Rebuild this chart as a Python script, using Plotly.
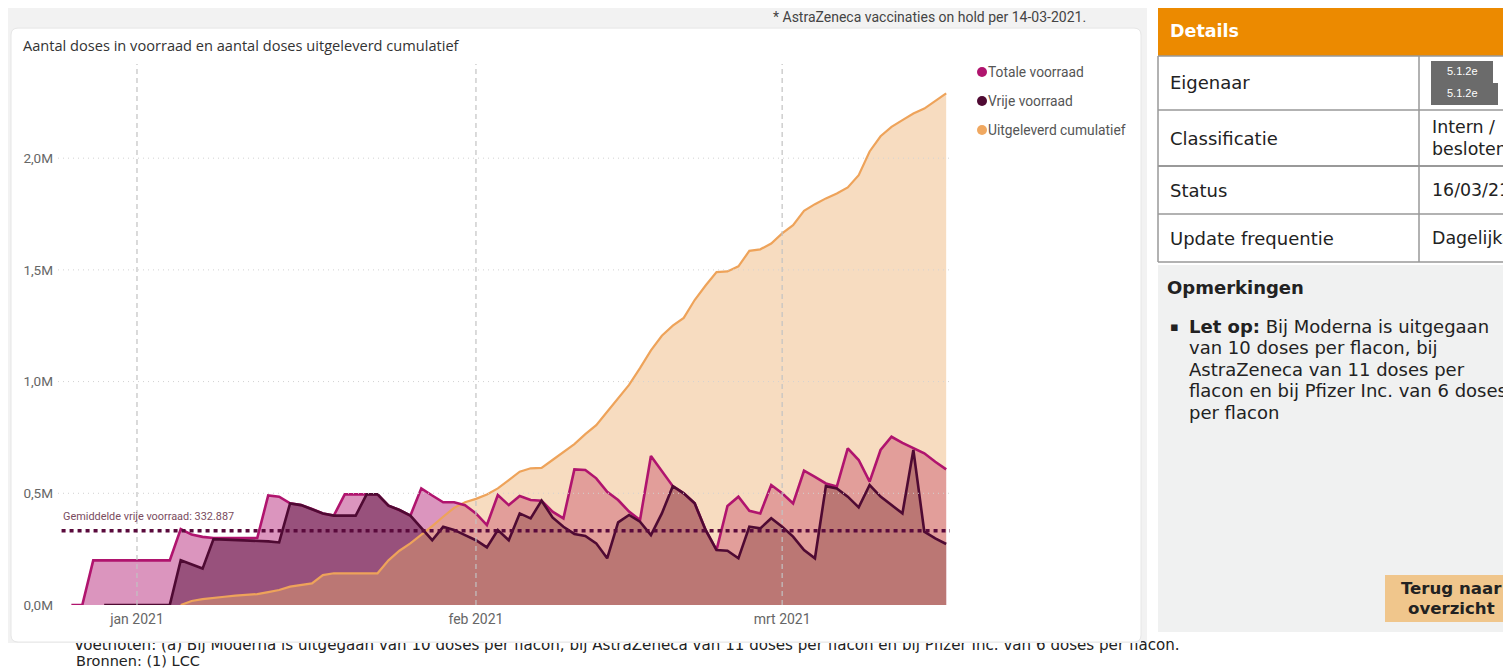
import pandas as pd
import plotly.graph_objects as go

OFF = 8            # page body margin of the browser
S = 672 / 680      # vertical scale of the photographed page
W, H = 1503, 672


def fx(x):
    return x - OFF


def fy(y):
    return y / S - OFF


def px(x):
    return fx(x) / W


def py(y):
    return 1 - fy(y) / H


# Data (doses), daily from 26-12-2020 to 16-03-2021
dates = pd.date_range('2020-12-26', '2021-03-16', freq='D')

totale_k = ([0, 0, 200, 200, 200, 200] +
            [200, 200, 200, 200, 340, 315, 305, 300, 300, 300, 300, 300, 490, 485, 455, 447,
             430, 410, 400, 495, 495, 495, 495, 445, 425, 400, 522, 490, 460, 460, 447] +
            [410, 358, 492, 447, 488, 470, 467, 418, 388, 607, 604, 567, 507, 470, 418, 380,
             667, 597, 532, 500, 455, 336, 246, 443, 485, 422, 410, 537] +
            [500, 455, 601, 574, 544, 530, 701, 649, 552, 694, 753, 726, 701, 679, 641, 607])

vrije_k = ([None, None, None, 0, 0, 0] +
           [0, 0, 0, 0, 200, 180, 163, 295, 293, 290, 290, 288, 285, 280, 455, 447,
            430, 410, 400, 400, 400, 495, 495, 445, 425, 400, 345, 290, 350, 336, 313] +
           [290, 258, 336, 290, 410, 388, 467, 392, 350, 318, 309, 276, 209, 370, 403, 373,
            313, 410, 532, 500, 455, 336, 246, 243, 209, 350, 343, 388] +
           [350, 306, 246, 209, 532, 522, 485, 437, 537, 485, 447, 410, 694, 328, 298, 273])

uitgeleverd_k = ([None] * 6 +
                 [None, None, None, None, 0, 18, 26, 33, 37, 42, 46, 49, 58, 67, 82, 90,
                  97, 134, 142, 142, 142, 142, 142, 200, 243, 276, 313, 353, 395, 435, 460] +
                 [475, 495, 522, 559, 597, 612, 614, 649, 686, 720, 765, 805, 865, 925, 985, 1060,
                  1140, 1205, 1250, 1285, 1365, 1430, 1490, 1493, 1516, 1585, 1592, 1618] +
                 [1663, 1700, 1764, 1794, 1820, 1842, 1869, 1924, 2030, 2098, 2140, 2170, 2200,
                  2222, 2256, 2290])


def doses(vals):
    return [None if v is None else v * 1000 for v in vals]


totale = doses(totale_k)
vrije = doses(vrije_k)
uitgeleverd = doses(uitgeleverd_k)

gemiddelde_vrij = 332887

x_ticks = ['2021-01-01', '2021-02-01', '2021-03-01']
x_ticktext = ['jan 2021', 'feb 2021', 'mrt 2021']
y_ticks = [0, 500000, 1000000, 1500000, 2000000]
y_ticktext = ['0,0M', '0,5M', '1,0M', '1,5M', '2,0M']

series_names = ['Totale voorraad', 'Vrije voorraad', 'Uitgeleverd cumulatief']
line_colors = ['#b0146e', '#4f0a33', '#eea35a']
fill_colors = ['rgba(176,20,110,0.45)', 'rgba(80,8,52,0.48)', 'rgba(236,172,105,0.42)']

VERD = 'DejaVu Sans'
CHART = 'Roboto'
NARROW = 'Liberation Sans Narrow, Roboto'

fig = go.Figure()

# fills first, lines on top
for vals, fc in zip([totale, vrije, uitgeleverd], fill_colors):
    fig.add_trace(go.Scatter(x=dates, y=vals, mode='none', fill='tozeroy',
                             fillcolor=fc, hoverinfo='skip', showlegend=False))

for vals, name, lc, w in zip([uitgeleverd, totale, vrije],
                             [series_names[2], series_names[0], series_names[1]],
                             [line_colors[2], line_colors[0], line_colors[1]],
                             [2.2, 2.6, 2.6]):
    fig.add_trace(go.Scatter(x=dates, y=vals, mode='lines', name=name,
                             line=dict(color=lc, width=w), showlegend=False))

# footnote partly hidden behind the chart card (clipped on small axes)
voetnoot = ('Voetnoten: (a) Bij Moderna is uitgegaan van 10 doses per flacon, bij AstraZeneca '
            'van 11 doses per flacon en bij Pfizer Inc. van 6 doses per flacon.')
for xa, ya in [('x2', 'y2'), ('x3', 'y3')]:
    fig.add_trace(go.Scatter(x=[74], y=[H - fy(646)], mode='text', text=[voetnoot],
                             textposition='middle right', cliponaxis=True,
                             textfont=dict(family=VERD, size=15.1, color='#222'),
                             xaxis=xa, yaxis=ya, hoverinfo='skip', showlegend=False))

shapes = []
annotations = []


def rect(x0, y0, x1, y1, fill, line_color=None, lw=0, layer='below'):
    shapes.append(dict(type='rect', xref='paper', yref='paper',
                       x0=px(x0), x1=px(x1), y0=py(y1), y1=py(y0),
                       fillcolor=fill, layer=layer,
                       line=dict(color=line_color or fill, width=lw)))


def hline(x0, x1, y, color='#999', lw=1.5):
    shapes.append(dict(type='line', xref='paper', yref='paper', x0=px(x0), x1=px(x1),
                       y0=py(y), y1=py(y), line=dict(color=color, width=lw), layer='below'))


def vline(x, y0, y1, color='#999', lw=1.5):
    shapes.append(dict(type='line', xref='paper', yref='paper', x0=px(x), x1=px(x),
                       y0=py(y0), y1=py(y1), line=dict(color=color, width=lw), layer='below'))


def txt(x, y, s, size=18, color='#222', family=VERD, anchor='left'):
    annotations.append(dict(x=px(x), y=py(y), xref='paper', yref='paper', text=s,
                            showarrow=False, xanchor=anchor, yanchor='middle',
                            font=dict(size=size, color=color, family=family)))


# page background and chart card
rect(6, 5, 1147, 643, '#f2f2f2')
cx0, cy0, cx1, cy1, r = 11, 28, 1141, 642, 7
rx, ry = r / W, r / H
X0, X1, Y0, Y1 = px(cx0), px(cx1), py(cy1), py(cy0)
card_path = (f'M {X0 + rx},{Y0} L {X1 - rx},{Y0} Q {X1},{Y0} {X1},{Y0 + ry} '
             f'L {X1},{Y1 - ry} Q {X1},{Y1} {X1 - rx},{Y1} L {X0 + rx},{Y1} '
             f'Q {X0},{Y1} {X0},{Y1 - ry} L {X0},{Y0 + ry} Q {X0},{Y0} {X0 + rx},{Y0} Z')
shapes.append(dict(type='path', xref='paper', yref='paper', path=card_path,
                   fillcolor='white', line=dict(color='#e6e6e6', width=1), layer='below'))

# gridlines drawn above the areas
for d in x_ticks:
    shapes.append(dict(type='line', xref='x', yref='paper', x0=d, x1=d,
                       y0=py(605), y1=py(64), layer='above',
                       line=dict(color='#c2c2c2', width=1.2, dash='5px,4px')))
for v in y_ticks[1:]:
    shapes.append(dict(type='line', xref='x domain', yref='y', x0=0, x1=1, y0=v, y1=v,
                       layer='above', line=dict(color='#d2d2d2', width=1, dash='1px,4px')))

# average line
shapes.append(dict(type='line', xref='x domain', yref='y', x0=0.004, x1=1,
                   y0=gemiddelde_vrij, y1=gemiddelde_vrij, layer='above',
                   line=dict(color='#5a0a3c', width=3.5, dash='4px,4px')))
annotations.append(dict(x=0.003, y=gemiddelde_vrij, xref='x domain', yref='y',
                        text='Gemiddelde vrije voorraad: 332.887', showarrow=False,
                        xanchor='left', yanchor='middle', yshift=14,
                        font=dict(size=10.9, color='#7a4c5e', family=NARROW)))

# chart title and note
txt(21, 45, 'Aantal doses in voorraad en aantal doses uitgeleverd cumulatief',
    size=14.6, color='#333', family='Open Sans')
txt(1088, 17, '* AstraZeneca vaccinaties on hold per 14-03-2021.', size=14,
    color='#444', family=NARROW, anchor='right')

# legend
for i, (name, lc) in enumerate(zip(series_names, line_colors)):
    yc = 72 + i * 29
    shapes.append(dict(type='circle', xref='paper', yref='paper',
                       x0=px(977), x1=px(987), y0=py(yc + 5), y1=py(yc - 5),
                       fillcolor=lc if i != 2 else '#f0a860', line=dict(width=0), layer='above'))
    txt(986, yc, name, size=13.8, color='#555', family=NARROW)

# details table
rect(1158, 7, 1530, 56, '#ec8a00')
txt(1168, 31, '<b>Details</b>', size=17.5, color='white')
for yl in [56, 110, 166, 214, 262]:
    hline(1158, 1530, yl, lw=2 if yl == 166 else 1.5)
vline(1158, 56, 262)
vline(1419, 56, 262)
rect(1431, 61, 1493, 83, '#6b6b6b')
rect(1431, 83, 1498, 105, '#6b6b6b')
txt(1462, 71, '5.1.2e', size=11, color='white', family='Liberation Sans', anchor='center')
txt(1462, 93, '5.1.2e', size=11, color='white', family='Liberation Sans', anchor='center')
txt(1168, 82, 'Eigenaar')
txt(1168, 138, 'Classificatie')
txt(1168, 190, 'Status')
txt(1168, 238, 'Update frequentie')
txt(1430, 127, 'Intern /', size=17.4)
txt(1430, 149, 'besloten', size=17.4)
txt(1430, 190, '16/03/21', size=17.4)
txt(1430, 238, 'Dagelijks', size=17.4)

# opmerkingen
rect(1158, 265, 1530, 632, '#f0f1f1')
txt(1165, 287, '<b>Opmerkingen</b>', size=18)
txt(1168, 326, '▪', size=13)
opm_lines = ['<b>Let op:</b> Bij Moderna is uitgegaan', 'van 10 doses per flacon, bij',
             'AstraZeneca van 11 doses per', 'flacon en bij Pfizer Inc. van 6 doses',
             'per flacon']
for i, line in enumerate(opm_lines):
    txt(1187, 326 + i * 21.5, line, size=18)

rect(1385, 575, 1530, 622, '#f0c68c')
txt(1451, 588, '<b>Terug naar</b>', size=16.6, anchor='center')
txt(1451, 608, '<b>overzicht</b>', size=16.6, anchor='center')

txt(74, 661, 'Bronnen: (1) LCC', size=14.5)

fig.update_layout(
    width=W, height=H, autosize=False,
    margin=dict(l=0, r=0, t=0, b=0),
    paper_bgcolor='white', plot_bgcolor='rgba(0,0,0,0)',
    showlegend=False,
    shapes=shapes, annotations=annotations,
    xaxis=dict(domain=[px(58), px(950)], anchor='y', type='date',
               range=['2020-12-24 18:40', '2021-03-16 08:24'],
               tickvals=x_ticks, ticktext=x_ticktext, showgrid=False, zeroline=False,
               showline=False, ticks='', ticklabelstandoff=4,
               tickfont=dict(family=CHART, size=14, color='#666')),
    yaxis=dict(domain=[py(605), py(62)], anchor='x', range=[0, 2430000],
               tickvals=y_ticks, ticktext=y_ticktext, showgrid=False, zeroline=False,
               showline=False, ticks='', ticklabelstandoff=4,
               tickfont=dict(family=CHART, size=13.5, color='#666')),
    xaxis2=dict(domain=[0, px(1141)], range=[OFF, 1141], anchor='y2', visible=False),
    yaxis2=dict(domain=[0, (H - fy(643)) / H], range=[0, H - fy(643)],
                anchor='x2', visible=False),
    xaxis3=dict(domain=[px(1141), 1], range=[1141, W + OFF], anchor='y3', visible=False),
    yaxis3=dict(domain=[0, 50 / H], range=[0, 50], anchor='x3', visible=False),
)

fig.write_html('out.html')
